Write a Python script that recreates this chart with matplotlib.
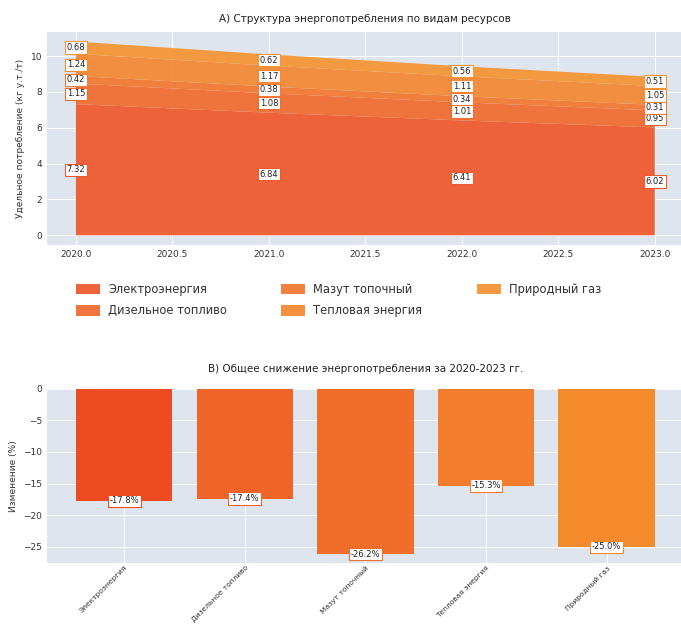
import matplotlib
matplotlib.use("Agg")
import matplotlib.pyplot as plt
import numpy as np

plt.rcParams['font.family'] = ['DejaVu Sans']

years = [2020, 2021, 2022, 2023]
resources = ["Электроэнергия", "Дизельное топливо", "Мазут топочный",
             "Тепловая энергия", "Природный газ"]
electricity = [7.32, 6.84, 6.41, 6.02]
diesel = [1.15, 1.08, 1.01, 0.95]
fuel_oil = [0.42, 0.38, 0.34, 0.31]
heat = [1.24, 1.17, 1.11, 1.05]
natural_gas = [0.68, 0.62, 0.56, 0.51]

stack_colors = ["#EF5B2F", "#F06D32", "#F27A34", "#F48A36", "#F59536"]
bar_colors = ["#EE4B22", "#F06428", "#F16E2A", "#F27D2C", "#F48A2C"]
bg = "#DFE5EE"

series = [electricity, diesel, fuel_oil, heat, natural_gas]

fig = plt.figure(figsize=(6.81, 6.25), dpi=100)

# --- A) stacked area ---
ax1 = fig.add_axes([0.069, 0.608, 0.935, 0.341])
ax1.set_facecolor(bg)
ax1.stackplot(years, *series, labels=resources, colors=stack_colors, alpha=0.95)
ax1.grid(True, color="white", linewidth=0.7)
ax1.set_axisbelow(True)
for s in ax1.spines.values():
    s.set_visible(False)

bottom = np.zeros(len(years))
for vals, col in zip(series, stack_colors):
    vals = np.array(vals)
    for x, b, v in zip(years, bottom, vals):
        ax1.text(x, b + v / 2, f"{v:.2f}", ha="center", va="center", fontsize=6,
                 color="#222222",
                 bbox=dict(boxstyle="square,pad=0.2", fc="white", ec=col, lw=0.8))
    bottom += vals

ax1.set_xlim(2019.85, 2023.15)
ax1.set_ylim(-0.54, 11.35)
ax1.set_xticks(np.arange(2020, 2023.01, 0.5))
ax1.set_xticklabels([f"{t:.1f}" for t in np.arange(2020, 2023.01, 0.5)])
ax1.tick_params(labelsize=6.5, length=0, colors="#333333")
ax1.set_ylabel("Удельное потребление (кг у.т./т)", fontsize=6.5, color="#333333")
ax1.set_title("А) Структура энергопотребления по видам ресурсов", fontsize=7.5,
              pad=7, color="#222222")

fig.legend(*ax1.get_legend_handles_labels(), loc="center", ncol=3,
           bbox_to_anchor=(0.497, 0.52), frameon=False, fontsize=8.3,
           handlelength=2.1, handleheight=1.0, columnspacing=4.7,
           labelspacing=0.75, handletextpad=0.7, labelcolor="#333333")

# --- B) total change 2020-2023 ---
change = [(v[-1] - v[0]) / v[0] * 100 for v in series]

ax2 = fig.add_axes([0.069, 0.1, 0.935, 0.278])
ax2.set_facecolor(bg)
bars = ax2.bar(resources, change, color=bar_colors, width=0.8)
ax2.grid(True, color="white", linewidth=0.7)
ax2.set_axisbelow(True)
for s in ax2.spines.values():
    s.set_visible(False)
for i, (c, col) in enumerate(zip(change, bar_colors)):
    ax2.text(i, c, f"{c:.1f}%", ha="center", va="center", fontsize=6,
             color="#222222",
             bbox=dict(boxstyle="square,pad=0.2", fc="white", ec=col, lw=0.8))
ax2.tick_params(labelsize=6.5, length=0, colors="#333333")
ax2.tick_params(axis="x", pad=1.5)
plt.setp(ax2.get_xticklabels(), rotation=45, ha="right", rotation_mode="anchor",
         fontsize=5.4)
ax2.set_ylabel("Изменение (%)", fontsize=6.5, color="#333333")
ax2.set_title("В) Общее снижение энергопотребления за 2020-2023 гг.", fontsize=7.5,
              pad=12, color="#222222")

fig.savefig("out.png", dpi=100, facecolor="white")
